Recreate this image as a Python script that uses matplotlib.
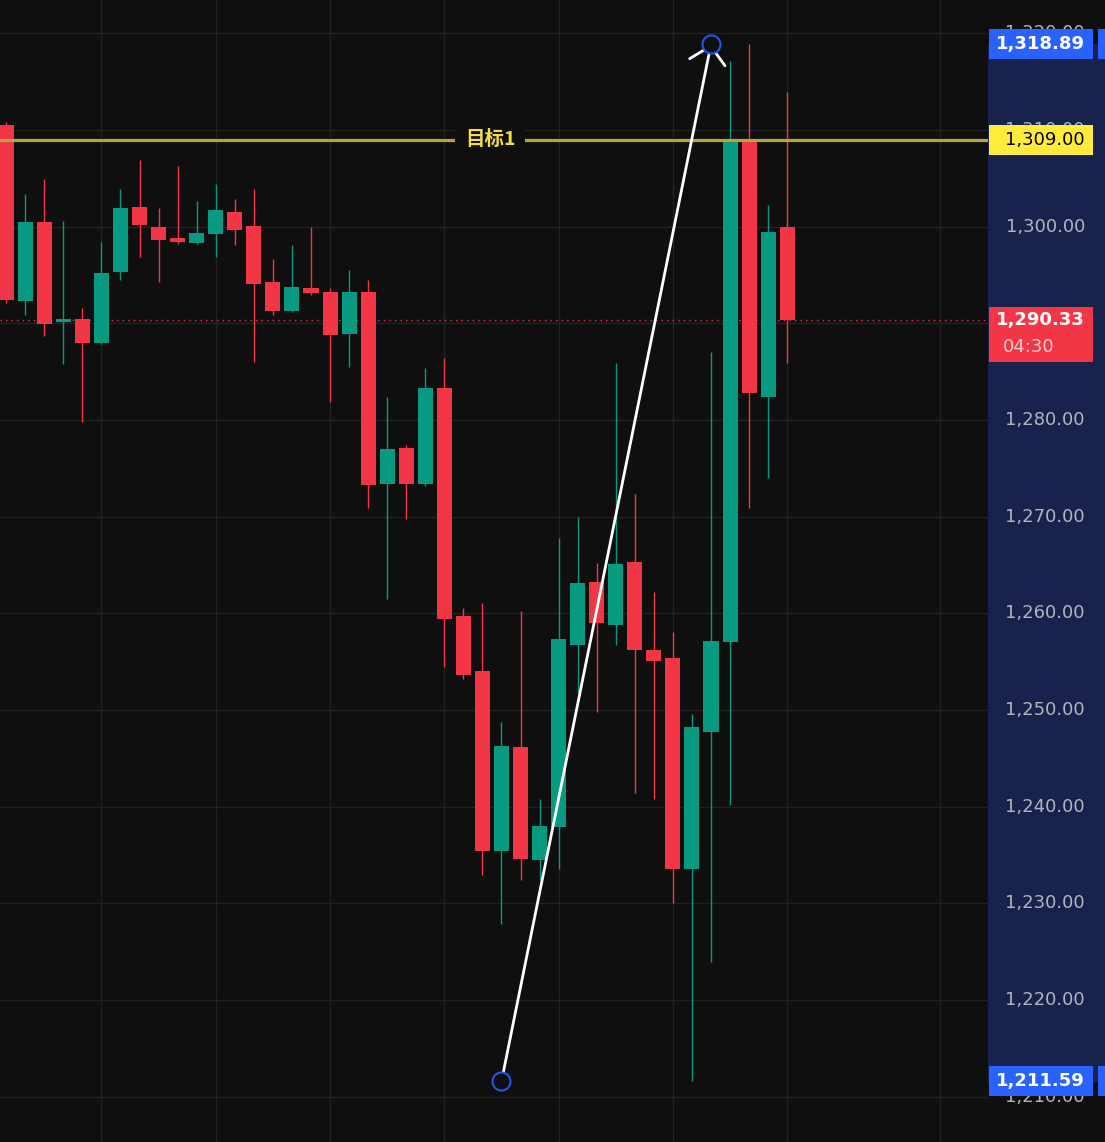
import numpy as np
import matplotlib
matplotlib.use("Agg")
from matplotlib import pyplot as plt
from matplotlib.patches import Rectangle
import matplotlib.transforms as mtransforms

# OHLC (one candle per slot)
opens = [1310.52, 1292.35, 1300.49, 1290.14, 1290.48, 1287.97, 1295.31, 1302.04, 1299.97, 1298.83,
         1298.31, 1299.24, 1301.52, 1300.07, 1294.28, 1291.28, 1293.66, 1293.25, 1288.90, 1293.25,
         1273.38, 1277.11, 1273.38, 1283.31, 1259.73, 1254.04, 1235.42, 1246.18, 1234.49, 1237.93,
         1256.73, 1263.25, 1258.80, 1265.31, 1256.21, 1255.38, 1233.55, 1247.73, 1257.04, 1308.97,
         1282.41, 1299.97]
highs = [1310.86, 1303.35, 1304.93, 1300.59, 1291.56, 1298.39, 1303.90, 1306.90, 1301.90, 1306.28,
         1302.66, 1304.42, 1302.87, 1303.90, 1296.66, 1298.11, 1299.97, 1293.63, 1295.52, 1294.49,
         1282.38, 1277.42, 1285.38, 1286.42, 1260.56, 1261.04, 1248.73, 1260.25, 1240.80, 1267.80,
         1269.97, 1265.21, 1285.90, 1272.35, 1262.21, 1258.10, 1249.59, 1287.04, 1317.14, 1318.90,
         1302.24, 1313.93]
lows = [1292.14, 1290.87, 1288.69, 1285.80, 1279.83, 1287.87, 1294.49, 1296.90, 1294.28, 1298.21,
        1298.21, 1296.87, 1298.11, 1286.00, 1290.87, 1291.18, 1292.93, 1281.90, 1285.52, 1270.93,
        1261.46, 1269.76, 1273.18, 1254.48, 1253.21, 1232.94, 1227.87, 1232.42, 1232.42, 1233.53,
        1251.75, 1249.83, 1256.73, 1241.45, 1240.80, 1230.01, 1211.66, 1223.97, 1240.18, 1270.90,
        1274.00, 1285.93]
closes = [1292.42, 1300.49, 1289.93, 1290.48, 1287.97, 1295.21, 1301.93, 1300.18, 1298.62, 1298.42,
          1299.35, 1301.73, 1299.66, 1294.07, 1291.28, 1293.76, 1293.14, 1288.80, 1293.25, 1273.28,
          1277.00, 1273.38, 1283.31, 1259.42, 1253.63, 1235.42, 1246.28, 1234.59, 1238.00, 1257.35,
          1263.14, 1259.04, 1265.11, 1256.21, 1255.07, 1233.55, 1248.24, 1257.14, 1308.97, 1282.83,
          1299.45, 1290.33]

price_ticks = [1320, 1310, 1300, 1290, 1280, 1270, 1260, 1250, 1240, 1230, 1220, 1210]
time_grid = [5, 11, 17, 23, 29, 35, 41, 49]

target_price = 1309.00
target_label = "目标1"
last_price = 1290.33
countdown = "04:30"
trend_start = (26, 1211.59)
trend_end = (37, 1318.89)

BG = "#0f0f0f"
GRID = "#222222"
UP = "#089981"
DOWN = "#f23645"
NAVY = "#18224c"
BLUE = "#2962ff"
YEL_LINE = "#b5a53c"
YEL = "#ffeb3b"

W, H = 1105, 1142
fig = plt.figure(figsize=(W / 100, H / 100), dpi=100, facecolor=BG)
pw = 988 / W
ax = fig.add_axes([0, 0, pw, 1])
ax2 = fig.add_axes([pw, 0, 1 - pw, 1], sharey=ax)
for a in (ax, ax2):
    a.set_facecolor(BG)
    for s in a.spines.values():
        s.set_visible(False)
    a.tick_params(left=False, bottom=False, right=False, labelleft=False, labelbottom=False)

ylo, yhi = 1205.32, 1323.45
ax.set_xlim(-0.325, 51.54)
ax.set_ylim(ylo, yhi)
ax2.set_xlim(0, 1)

# grid
for p in price_ticks:
    ax.axhline(p, color=GRID, lw=1, zorder=0)
for t in time_grid:
    ax.axvline(t, color=GRID, lw=1, zorder=0)

# candles
x = np.arange(len(opens))
o = np.array(opens); c = np.array(closes)
h = np.array(highs); l = np.array(lows)
cols = np.where(c >= o, UP, DOWN)
ax.vlines(x, l, h, colors=cols, lw=1, zorder=2)
ax.bar(x, np.abs(c - o), bottom=np.minimum(o, c), width=0.79, color=cols, zorder=3)

# last price dotted line
ax.axhline(last_price, color=DOWN, lw=1, ls=(0, (1, 3)), zorder=1)

# target line with label
ax.axhline(target_price, color=YEL_LINE, lw=2.3, zorder=4)
tr = mtransforms.blended_transform_factory(ax.transAxes, ax.transData)
ax.text(0.496, target_price, target_label, transform=tr, ha="center", va="center",
        fontsize=14, fontweight="bold", color="#f5dc48",
        family=["Noto Sans CJK SC", "DejaVu Sans"], zorder=5,
        bbox=dict(boxstyle="square,pad=0.5", fc=BG, ec="none"))

# trend line with arrow and end circles
ax.annotate("", xy=trend_end, xytext=trend_start,
            arrowprops=dict(arrowstyle="->,head_length=0.6,head_width=0.65",
                            color="white", lw=2, shrinkA=0, shrinkB=0, mutation_scale=20),
            zorder=6)
ax.plot([trend_start[0], trend_end[0]], [trend_start[1], trend_end[1]], ls="none",
        marker="o", ms=13, mfc=BG, mec="#2156e8", mew=1.5, zorder=7)

# price scale
ax2.axhspan(trend_start[1], trend_end[1], color=NAVY, zorder=0)
for p in price_ticks:
    if abs(p - last_price) < 1.5:
        continue  # fully covered by the last-price box
    ax2.text(0.829, p, f"{p:,.2f}", ha="right", va="center", fontsize=13,
             color="#b2b5be", zorder=1)

px = (yhi - ylo) / H  # price per pixel


def price_box(price, fc, tc, text, bold=True):
    hgt = 30 * px
    ax2.add_patch(Rectangle((0.01, price - hgt / 2), 0.885, hgt, fc=fc, ec="none", zorder=3))
    ax2.text(0.829, price, text, ha="right", va="center", fontsize=13, color=tc,
             fontweight="bold" if bold else "normal", zorder=4)


price_box(trend_end[1], BLUE, "white", f"{trend_end[1]:,.2f}")
price_box(trend_start[1], BLUE, "white", f"{trend_start[1]:,.2f}")
price_box(target_price, YEL, "black", f"{target_price:,.2f}", bold=False)
for p in (trend_end[1], trend_start[1]):
    ax2.add_patch(Rectangle((0.94, p - 15 * px), 0.06, 30 * px, fc=BLUE, ec="none", zorder=3))

# last price box with countdown
top = last_price + 13 * px
ax2.add_patch(Rectangle((0.01, top - 55 * px), 0.885, 55 * px, fc=DOWN, ec="none", zorder=3))
ax2.text(0.829, last_price, f"{last_price:,.2f}", ha="right", va="center", fontsize=13,
         color="white", fontweight="bold", zorder=4)
ax2.text(0.128, last_price - 27 * px, countdown, ha="left", va="center", fontsize=13,
         color="#fbd0d4", zorder=4)

fig.savefig("out.png", dpi=100, facecolor=BG)
